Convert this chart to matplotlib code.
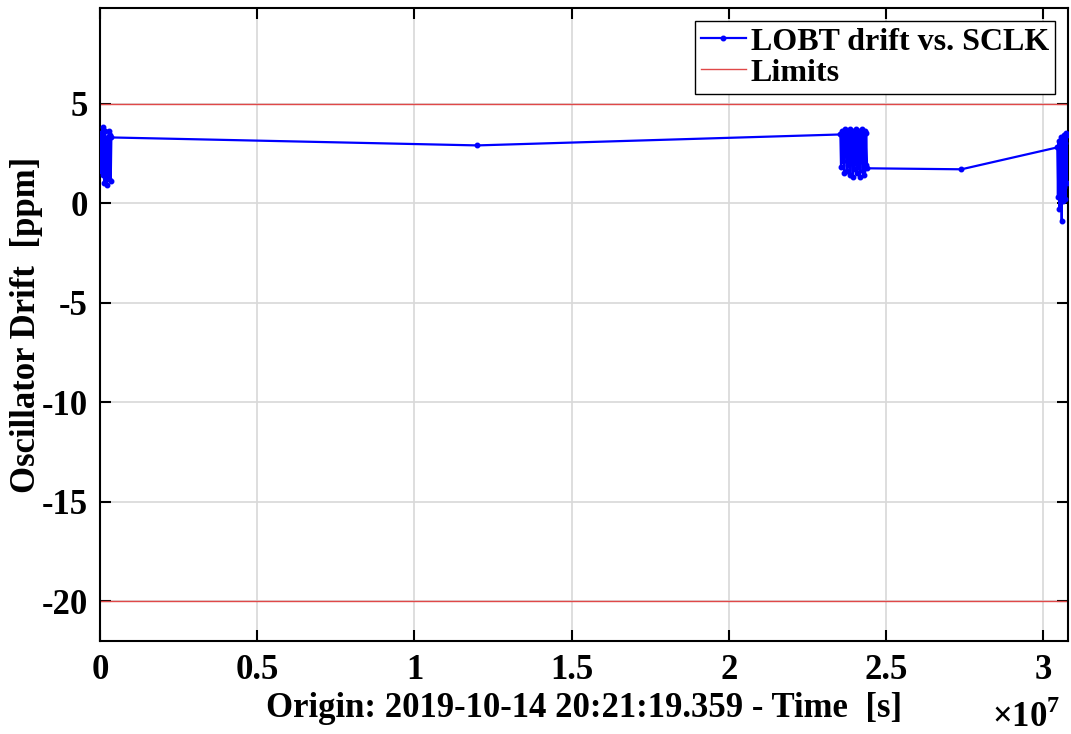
import matplotlib
matplotlib.use("Agg")
import matplotlib.pyplot as plt
from matplotlib.ticker import FuncFormatter

plt.rcParams["font.family"] = ["Liberation Serif", "DejaVu Serif"]
plt.rcParams["font.weight"] = "bold"
plt.rcParams["axes.unicode_minus"] = False
plt.rcParams["mathtext.fontset"] = "custom"
plt.rcParams["mathtext.rm"] = "Liberation Serif:bold"
plt.rcParams["mathtext.bf"] = "Liberation Serif:bold"

# times in units of 1e7 s, drift in ppm
c1_t = [0.000, 0.002, 0.004, 0.006, 0.008, 0.010, 0.012, 0.014, 0.016, 0.018,
        0.020, 0.022, 0.024, 0.026, 0.028, 0.030, 0.032, 0.034, 0.036]
c1_v = [2.9, 1.6, 3.5, 2.0, 3.8, 1.4, 3.2, 1.0, 3.6, 1.8,
        2.4, 0.9, 3.3, 1.5, 3.6, 1.2, 3.4, 1.1, 3.3]

gap1_t = [1.200]
gap1_v = [2.9]

c2_t = [2.355, 2.357, 2.360, 2.362, 2.364, 2.367, 2.369, 2.371, 2.373, 2.376,
        2.378, 2.380, 2.383, 2.385, 2.387, 2.389, 2.392, 2.394, 2.396, 2.399,
        2.401, 2.403, 2.405, 2.408, 2.410, 2.412, 2.415, 2.417, 2.419, 2.421,
        2.424, 2.426, 2.428, 2.431, 2.433, 2.435, 2.437, 2.440]
c2_v = [3.45, 1.8, 3.6, 2.1, 3.5, 1.5, 3.7, 2.4, 3.3, 1.6,
        3.6, 1.9, 3.5, 1.4, 3.7, 2.2, 3.4, 1.3, 3.6, 1.7,
        3.5, 2.0, 3.7, 1.5, 3.4, 1.8, 3.6, 1.3, 3.5, 2.1,
        3.7, 1.6, 3.4, 1.4, 3.6, 1.9, 3.5, 1.75]

gap2_t = [2.740]
gap2_v = [1.7]

c3_t = [3.045, 3.047, 3.049, 3.051, 3.053, 3.055, 3.057, 3.059, 3.061,
        3.063, 3.065, 3.067, 3.069, 3.071, 3.073, 3.075, 3.077]
c3_v = [2.8, 0.3, 3.1, -0.3, 2.5, 0.6, 3.3, -0.9, 2.9,
        0.1, 3.4, 0.8, 3.0, 0.2, 3.5, 1.0, 3.4]

limits = [5, -20]

t = [x * 1e7 for x in c1_t + gap1_t + c2_t + gap2_t + c3_t]
v = c1_v + gap1_v + c2_v + gap2_v + c3_v

fig = plt.figure(figsize=(10.71, 7.34), dpi=100)
ax = fig.add_axes([0.0934, 0.1267, 0.9038, 0.8623])

ax.plot(t, v, color="#0000ff", lw=1.6, marker=".", ms=6.5,
        label="LOBT drift vs. SCLK", zorder=3)
for i, lim in enumerate(limits):
    ax.axhline(lim, color="#e04848", lw=1.0,
               label="Limits" if i == 0 else None, zorder=2)

ax.set_xlim(0, 3.079e7)
ax.set_ylim(-22, 9.8)
ax.set_xticks([0, 0.5e7, 1e7, 1.5e7, 2e7, 2.5e7, 3e7])
ax.set_yticks([-20, -15, -10, -5, 0, 5])
ax.xaxis.set_major_formatter(FuncFormatter(lambda x, p: "%g" % (x / 1e7)))
ax.grid(True, color="#d8d8d8", lw=1.2)
ax.set_axisbelow(True)
ax.tick_params(direction="in", length=8, width=1.5, labelsize=25,
               top=True, right=True, pad=9)
for s in ax.spines.values():
    s.set_linewidth(1.5)

ax.set_xlabel("Origin: 2019-10-14 20:21:19.359 - Time  [s]", fontsize=25,
              fontweight="bold", labelpad=4)
ax.set_ylabel("Oscillator Drift  [ppm]", fontsize=25, fontweight="bold")
ax.yaxis.set_label_coords(-0.059, 0.5)
ax.text(0.992, -0.136, r"$\times\mathbf{10}^{\mathbf{7}}$",
        transform=ax.transAxes, ha="right", va="baseline", fontsize=25)

leg = ax.legend(loc="upper right", fontsize=23, numpoints=1, fancybox=False,
                edgecolor="black", framealpha=1, borderpad=0.2,
                handlelength=1.4, handletextpad=0.15, labelspacing=0.05,
                borderaxespad=0.4)
leg.get_frame().set_linewidth(1.0)
for txt in leg.get_texts():
    txt.set_fontweight("bold")

fig.savefig("out.png", dpi=100)
